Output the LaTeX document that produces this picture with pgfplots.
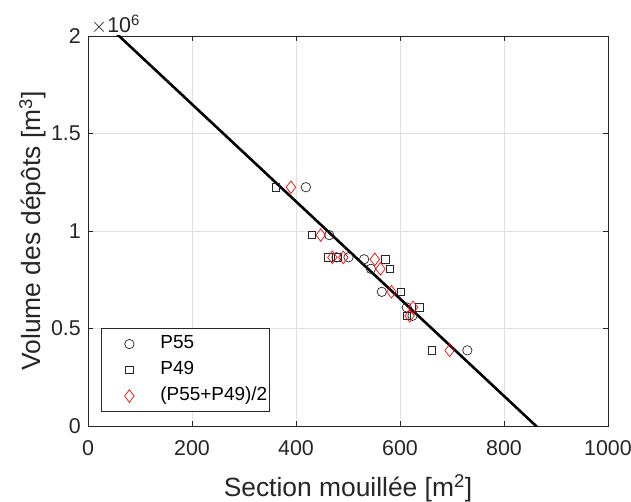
\documentclass[border=0pt]{standalone}
\usepackage{fontspec}
\setmainfont{Liberation Sans}
\usepackage{pgfplots}
\pgfplotsset{compat=1.18}
\definecolor{axgray}{gray}{0.15}
\definecolor{gridgray}{gray}{0.88}
\pgfplotsset{myleg/.style={legend image code/.code={\path[draw=none,fill=none] (0bp,0bp) (57bp,0bp);\draw[only marks] plot coordinates {(28bp,0bp)};}}}
\begin{document}
\begin{tikzpicture}
\begin{axis}[
  scale only axis,
  width=520bp, height=390bp,
  xmin=0, xmax=1000, ymin=0, ymax=2000000,
  xtick={0,200,400,600,800,1000},
  ytick={0,500000,1000000,1500000,2000000},
  yticklabels={0,0.5,1,1.5,2},
  scaled y ticks=false,
  /pgf/number format/assume math mode=true,
  /pgf/number format/set thousands separator={},
  grid=major,
  major grid style={gridgray, line width=0.8pt},
  tick align=inside,
  major tick length=5bp,
  axis line style={axgray, line width=0.8pt},
  tick style={axgray, line width=0.8pt},
  ticklabel style={font=\fontsize{21.5}{24}\selectfont, text=axgray},
  yticklabel style={inner xsep=7bp},
  xticklabel style={inner ysep=14bp},
  xlabel={Section mouillée [m\textsuperscript{2}]},
  ylabel={Volume des dépôts [m\textsuperscript{3}]},
  label style={font=\fontsize{26.5}{28}\selectfont, text=axgray},
  xlabel style={at={(rel axis cs:0.5,0)}, anchor=base, yshift=-70bp},
  ylabel style={at={(rel axis cs:0,0.5)}, anchor=base, yshift=47bp},
  legend style={at={(rel axis cs:0.025,0.036)}, anchor=south west,
    draw=axgray, line width=0.8pt, font=\fontsize{19}{22}\selectfont,
    nodes={inner ysep=0pt, text height=14bp, text depth=5bp},
    row sep=7bp, inner xsep=0bp, inner ysep=6bp},
  legend cell align=left,
  extra description/.code={
    \node[anchor=base west, inner sep=0pt, text=axgray, font=\fontsize{21.5}{24}\selectfont] at ([shift={(3bp,3bp)}]rel axis cs:0,1) {$\times$10\textsuperscript{6}};
  },
]
\coordinate (SW) at (rel axis cs:0,0);
\addplot[only marks, mark=o, mark size=4.7bp, axgray, line width=0.7pt, myleg] coordinates {
 (419,1224500) (464,979000) (478,865000) (501,865000) (531,855000)
 (544,806000) (565,688000) (613,608000) (624,565000) (729.5,388000)};
\addlegendentry{P55}
\addplot[only marks, mark=square, mark size=3.7bp, axgray, line width=0.7pt, myleg] coordinates {
 (361.5,1224500) (431,979000) (462,865000) (481,865000) (572,855000)
 (581,806000) (602,688000) (637,608000) (613,565000) (661.5,388000)};
\addlegendentry{P49}
\addplot[only marks, mark=diamond, mark size=6.3bp, red, line width=0.7pt, myleg] coordinates {
 (390.25,1224500) (447.5,979000) (470,865000) (491,865000) (551.5,855000)
 (562.5,806000) (583.5,688000) (625,608000) (618.5,565000) (695.5,388000)};
\addlegendentry{(P55+P49)/2}
\addplot[black, line width=2.6bp, forget plot] coordinates {(0,2149000) (1000,-345000)};
\end{axis}
\pgfresetboundingbox
\path[use as bounding box] (SW) ++(-88bp,-76bp) rectangle ++(631bp,502bp);
\end{tikzpicture}
\end{document}
